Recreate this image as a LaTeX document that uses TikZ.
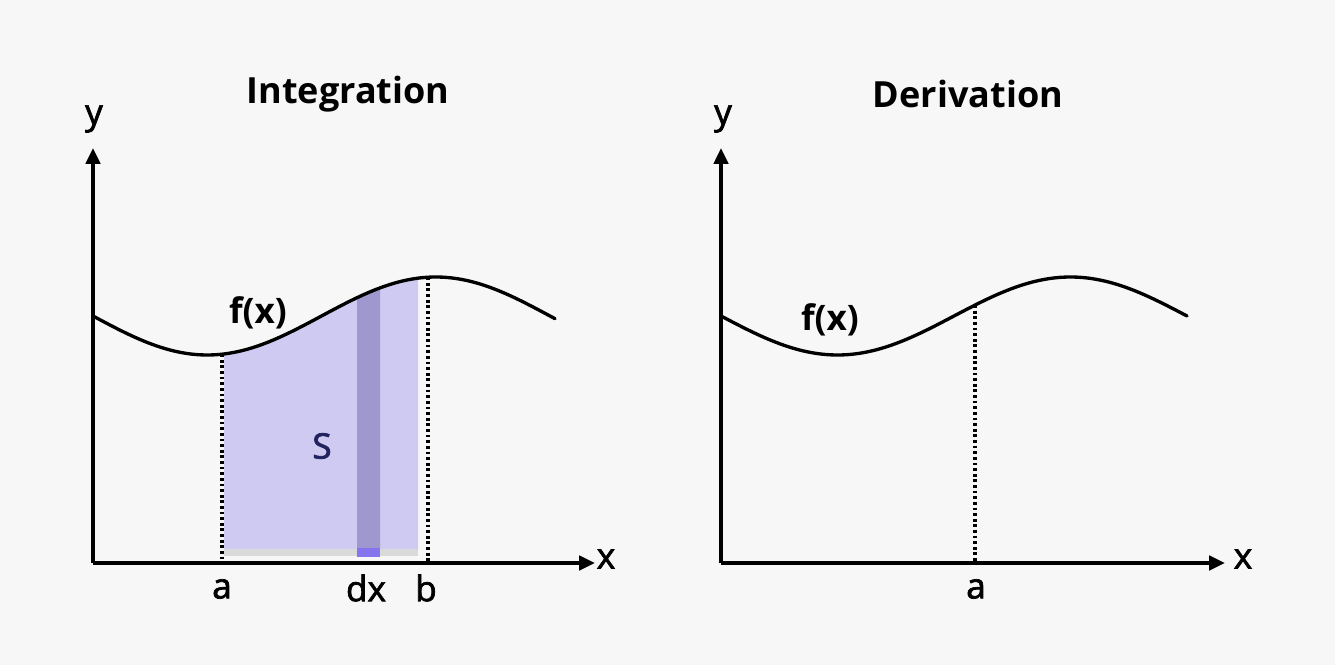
\documentclass[tikz,border=0pt]{standalone}
\usepackage{fontspec}
\setmainfont{Open Sans}
\newfontfamily\semib[FakeBold=2]{Open Sans}
\usetikzlibrary{arrows.meta}
\definecolor{bgc}{HTML}{F7F7F7}
\definecolor{areac}{HTML}{CFCAF2}
\definecolor{stripc}{HTML}{9E98CF}
\definecolor{stripbot}{HTML}{8474EE}
\definecolor{bandc}{HTML}{DADADA}
\definecolor{sc}{HTML}{22225E}
\tikzset{
  axis/.style={line width=2.2pt, -{Triangle[length=9pt,width=8pt]}},
  curve/.style={line width=1.9pt, line cap=round},
  guide/.style={line width=2.1pt, dash pattern=on 1.6pt off 1.6pt},
  title/.style={font=\fontsize{20.5}{24}\selectfont\bfseries, inner sep=0pt},
  lbl/.style={font=\fontsize{20}{24}\selectfont\semib, inner sep=0pt},
  flbl/.style={font=\fontsize{20}{24}\selectfont\bfseries, inner sep=0pt}
}
\begin{document}
\begin{tikzpicture}[x=0.02cm, y=-0.02cm,
  declare function={fl(\t)=316+39*sin(0.78775*(\t-93)); fr(\t)=316+39*sin(0.77253*(\t-721));}]
\fill[bgc] (0,0) rectangle (1335,665);
\useasboundingbox (0,0) rectangle (1335,665);
% ---------------- Integration ----------------
\node[title] (t1) at (348,94) {Integration};
\coordinate (o1) at (93,563);
\coordinate (ytip1) at (93,148);
\coordinate (xtip1) at (595,563);
% shaded area
\fill[areac] (224,549) -- plot[domain=224:418, samples=60] (\x,{fl(\x)}) -- (418,549) -- cycle;
\fill[stripc] (357,549) -- plot[domain=357:380, samples=10] (\x,{fl(\x)}) -- (380,549) -- cycle;
\fill[bandc] (224,549) rectangle (357,556);
\fill[bandc] (380,549) rectangle (418,556);
\fill[stripbot] (357,548) rectangle (380,557);
% guides
\coordinate (ca) at (222,{fl(222)});
\coordinate (cb) at (428,{fl(428)});
\coordinate (fa) at (222,561);
\coordinate (fb) at (428,561);
\draw[guide] (ca) -- (fa);
\draw[guide] (cb) -- (fb);
% curve
\draw[curve] plot[domain=93:555, samples=120] (\x,{fl(\x)});
% axes
\draw[axis] (o1) -- (ytip1);
\draw[axis] (o1) -- (xtip1);
\node[lbl] (y1) at (94,119) {y};
\node[lbl] (x1) at (606,559) {x};
\node[lbl] (a1) at (222,589) {a};
\node[lbl] (dx1) at (366,588) {dx};
\node[lbl] (b1) at (426,588) {b};
\node[lbl, text=sc] (s1) at (322,446) {S};
\node[flbl] (f1) at (258,313) {f(x)};
% ---------------- Derivation ----------------
\node[title] (t2) at (968,94) {Derivation};
\coordinate (o2) at (721,563);
\coordinate (ytip2) at (721,148);
\coordinate (xtip2) at (1225,563);
\coordinate (cc) at (975,{fr(975)});
\coordinate (fc) at (975,561);
\draw[guide] (cc) -- (fc);
\draw[curve] plot[domain=721:1187, samples=120] (\x,{fr(\x)});
\draw[axis] (o2) -- (ytip2);
\draw[axis] (o2) -- (xtip2);
\node[lbl] (y2) at (723,119) {y};
\node[lbl] (x2) at (1243,559) {x};
\node[lbl] (a2) at (976,589) {a};
\node[flbl] (f2) at (830,320) {f(x)};
\end{tikzpicture}
\end{document}
